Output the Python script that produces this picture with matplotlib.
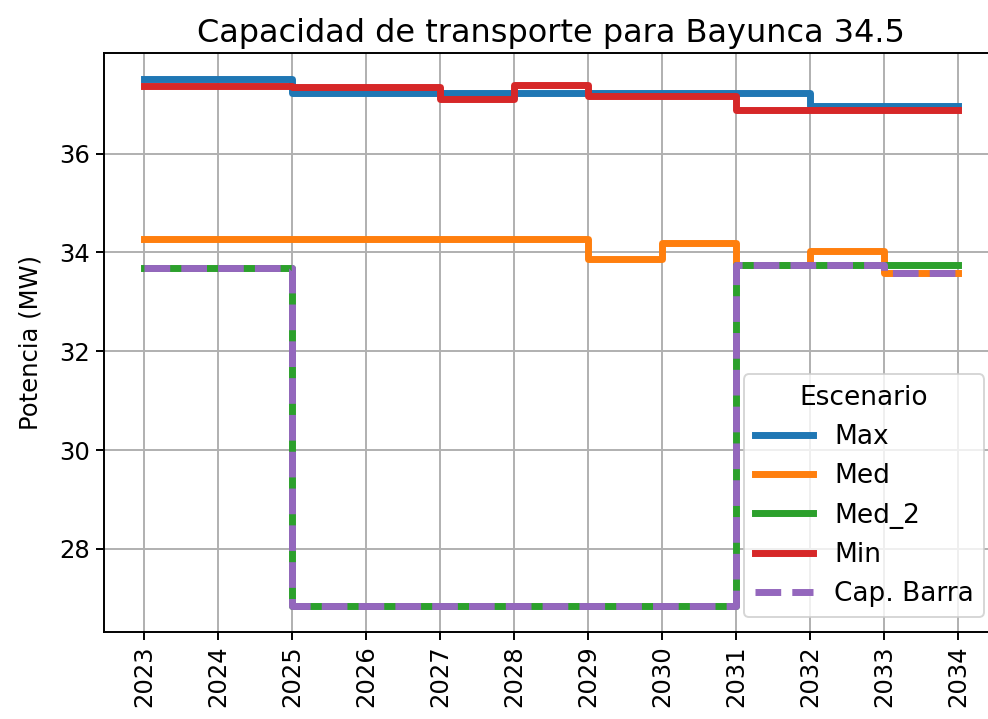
import matplotlib
matplotlib.use("Agg")
import matplotlib.pyplot as plt

# years and scenario values (MW), step post
years = [2023, 2024, 2025, 2026, 2027, 2028, 2029, 2030, 2031, 2032, 2033, 2034]
cap_max = [37.51, 37.51, 37.22, 37.22, 37.22, 37.22, 37.22, 37.22, 37.22, 36.96, 36.96, 36.96]
cap_med = [34.28, 34.28, 34.28, 34.28, 34.28, 34.28, 33.87, 34.20, 33.74, 34.03, 33.58, 33.58]
cap_med_2 = [33.69, 33.69, 26.85, 26.85, 26.85, 26.85, 26.85, 26.85, 33.74, 33.74, 33.74, 33.74]
cap_min = [37.36, 37.36, 37.35, 37.35, 37.10, 37.39, 37.16, 37.16, 36.88, 36.88, 36.88, 36.88]
cap_barra = [33.69, 33.69, 26.85, 26.85, 26.85, 26.85, 26.85, 26.85, 33.74, 33.74, 33.58, 33.58]

fs = 17.5
lw = 5

fig = plt.figure(figsize=(9.88, 7.19), dpi=100)
ax = fig.add_axes([103.5 / 988, 1 - 632 / 719, (998.7 - 103.5) / 988, (632 - 52.7) / 719])

ax.step(years, cap_max, where="post", color="tab:blue", lw=lw, label="Max")
ax.step(years, cap_med, where="post", color="tab:orange", lw=lw, label="Med")
ax.step(years, cap_med_2, where="post", color="tab:green", lw=lw, label="Med_2")
ax.step(years, cap_min, where="post", color="tab:red", lw=lw, label="Min")
ax.step(years, cap_barra, where="post", color="tab:purple", lw=lw, ls="--", label="Cap. Barra")

ax.set_xticks(years)
ax.set_xticklabels([str(y) for y in years], rotation=90)
ax.set_yticks([28, 30, 32, 34, 36])
ax.tick_params(labelsize=fs, length=6, width=1.4)
ax.grid(True, lw=1.4, color="#b0b0b0")
for s in ax.spines.values():
    s.set_linewidth(1.4)

ax.set_ylabel("Potencia (MW)", fontsize=fs, labelpad=12)
ax.set_title("Capacidad de transporte para Bayunca 34.5", fontsize=23, pad=8)

leg = ax.legend(title="Escenario", loc="lower right", fontsize=19, title_fontsize=19,
                borderaxespad=0.55, handlelength=2.2)
leg.get_frame().set_linewidth(1.4)

fig.savefig("out.png", dpi=100)
